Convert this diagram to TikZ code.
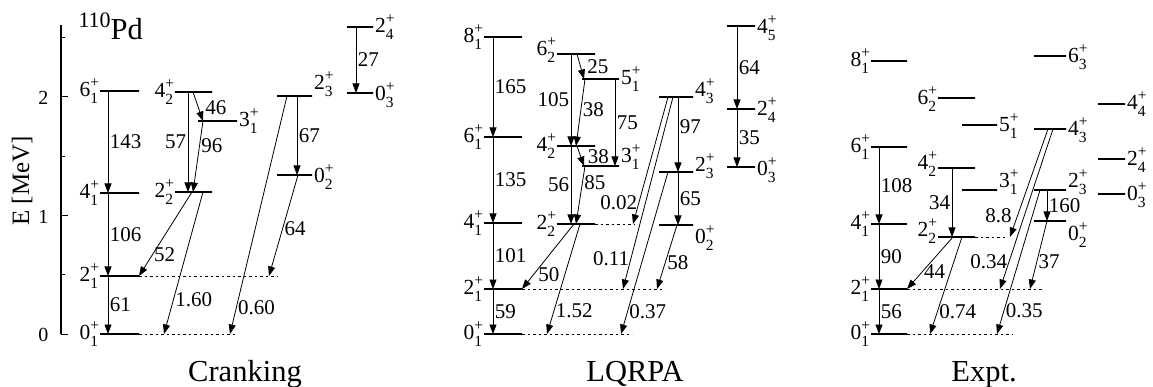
\documentclass[tikz,border=0pt]{standalone}
\usepackage{fontspec}
\setmainfont{Liberation Serif}
\usetikzlibrary{arrows.meta,positioning}
\newcommand{\lv}[2]{#1\rlap{\raisebox{0.40em}{\fontsize{15.5}{16}\selectfont+}}%
  \raisebox{-0.32em}{\fontsize{15.5}{16}\selectfont#2}}

\begin{document}
\begin{tikzpicture}[x=1pt,y=-1pt,
  lev/.style={draw,line width=1.6pt,inner sep=0pt,outer sep=0pt,minimum height=0pt,
              minimum width=#1,anchor=west},
  lev/.default=38pt,
  lab/.style={font=\fontsize{21.5}{24}\selectfont,inner sep=0.8pt},
  num/.style={font=\fontsize{21}{24}\selectfont,inner sep=1.5pt},
  ttl/.style={font=\fontsize{30.5}{36}\selectfont,anchor=base},
  arr/.style={-{Triangle[length=9.5pt,width=7pt]},line width=0.8pt},
  dsh/.style={dash pattern=on 2.5pt off 3pt,line width=0.6pt}]
  \useasboundingbox (0,0) rectangle (1153,387);
  % ---- energy axis
  \draw[line width=1.2pt] (61,25) -- (61,334);
  \foreach \e in {0,1,2} {
    \draw[line width=1pt] (61,{334-118.5*\e}) -- ++(7,0);
    \node[font=\fontsize{20}{24}\selectfont,anchor=east] (t\e) at (52,{335-118.5*\e}) {\e};}
  \foreach \e in {0.5,1.5,2.5} \draw[line width=1pt] (61,{334-118.5*\e}) -- ++(4,0);
  \node[rotate=90,font=\fontsize{25}{30}\selectfont] (ylab) at (22,181) {E [MeV]};
  \node[font=\fontsize{30.5}{36}\selectfont,anchor=base west] (nuc) at (75,40)
       {\raisebox{0.42em}{\fontsize{22}{22}\selectfont 110}Pd};
  % ---- Cranking levels
  \node[lev=39pt] (c01) at (100,334) {};
  \node[lev=39pt] (c21) at (100,276) {};
  \node[lev=39pt] (c41) at (100,193) {};
  \node[lev=39pt] (c61) at (100,91) {};
  \node[lev=37pt] (c42) at (175,92) {};
  \node[lev=37pt] (c22) at (175,192) {};
  \node[lev=39pt] (c31) at (198,121) {};
  \node[lev=35pt] (c23) at (277,96) {};
  \node[lev=35pt] (c02) at (277,175) {};
  \node[lev=26pt] (c03) at (347,93) {};
  \node[lev=26pt] (c24) at (347,27) {};
  \foreach \n/\j/\i in {c01/0/1,c21/2/1,c41/4/1,c61/6/1,c42/4/2,c22/2/2}
    \node[lab,left=1pt of \n] (l\n) {\lv{\j}{\i}};
  \foreach \n/\j/\i/\s in {c31/3/1/0,c02/0/2/-2,c03/0/3/-2,c24/2/4/0,c23/2/3/12}
    \node[lab,right=1pt of \n,yshift=\s pt] (l\n) {\lv{\j}{\i}};
  \coordinate (c21d) at (277,276); \coordinate (c01d) at (237,334);
  \draw[dsh] (c21.east) -- (c21d); \draw[dsh] (c01.east) -- (c01d);
  % ---- Cranking transitions
  \foreach \a/\b/\t in {c61/c41/143,c41/c21/106,c21/c01/61}
    \draw[arr] ([xshift=8pt]\a.west) -- node[num,right]{\t} ([xshift=8pt]\b.west);
  \draw[arr] ([xshift=13pt]c42.west) -- node[num,left]{57} ([xshift=13pt]c22.west);
  \draw[arr] ([xshift=18pt]c42.west) -- node[num,right,pos=0.55,xshift=5pt]{46} ([xshift=5pt]c31.west);
  \draw[arr] ([xshift=5pt]c31.west) -- node[num,right,pos=0.35]{96} ([xshift=18pt]c22.west);
  \draw[arr] ([xshift=17pt]c22.west) -- node[num,right,pos=0.75]{52} (c21.east);
  \draw[arr] ([xshift=28pt]c22.west) -- node[num,right,pos=0.76]{1.60} ([xshift=64pt]c01.west);
  \draw[arr] ([xshift=20pt]c23.west) -- node[num,right]{67} ([xshift=20pt]c02.west);
  \draw[arr] ([xshift=10pt]c23.west) -- node[num,right,pos=0.89]{0.60} ([xshift=130pt]c01.west);
  \draw[arr] ([xshift=21pt]c02.west) -- node[num,right,pos=0.53]{64} ([xshift=169pt]c21.west);
  \draw[arr] ([xshift=9pt]c24.west) -- node[num,right]{27} ([xshift=9pt]c03.west);
  % ---- LQRPA levels
  \node[lev] (q01) at (484,334) {};
  \node[lev] (q21) at (484,289) {};
  \node[lev] (q41) at (484,223) {};
  \node[lev] (q61) at (484,137) {};
  \node[lev] (q81) at (484,37) {};
  \node[lev] (q62) at (557,54) {};
  \node[lev] (q42) at (557,146) {};
  \node[lev] (q22) at (557,224) {};
  \node[lev=37pt] (q51) at (582,79) {};
  \node[lev=37pt] (q31) at (582,166) {};
  \node[lev=34pt] (q43) at (659,97) {};
  \node[lev=34pt] (q23) at (659,172) {};
  \node[lev=34pt] (q02) at (659,225) {};
  \node[lev=28pt] (q45) at (727,26) {};
  \node[lev=28pt] (q24) at (727,109) {};
  \node[lev=28pt] (q03) at (727,167) {};
  \foreach \n/\j/\i/\s in {q01/0/1/0,q21/2/1/0,q41/4/1/0,q61/6/1/0,q81/8/1/0,q62/6/2/4,q42/4/2/0,q22/2/2/0}
    \node[lab,left=1pt of \n,yshift=\s pt] (l\n) {\lv{\j}{\i}};
  \foreach \n/\j/\i/\s in {q51/5/1/0,q31/3/1/9,q43/4/3/6,q23/2/3/6,q02/0/2/-13,q45/4/5/-2,q24/2/4/-1,q03/0/3/-3}
    \node[lab,right=1pt of \n,yshift=\s pt] (l\n) {\lv{\j}{\i}};
  \coordinate (q21d) at (665,289); \coordinate (q01d) at (632,334); \coordinate (q22d) at (635,224);
  \draw[dsh] (q21.east) -- (q21d); \draw[dsh] (q01.east) -- (q01d); \draw[dsh] (q22.east) -- (q22d);
  % ---- LQRPA transitions
  \foreach \a/\b/\t in {q81/q61/165,q61/q41/135,q41/q21/101,q21/q01/59}
    \draw[arr] ([xshift=9pt]\a.west) -- node[num,right]{\t} ([xshift=9pt]\b.west);
  \draw[arr] ([xshift=14pt]q62.west) -- node[num,left]{105} ([xshift=14pt]q42.west);
  \draw[arr] ([xshift=14pt]q42.west) -- node[num,left]{56} ([xshift=14pt]q22.west);
  \draw[arr] ([xshift=20pt]q62.west) -- node[num,right,xshift=5pt]{25} ([xshift=2pt]q51.west);
  \draw[arr] ([xshift=3pt]q51.west) -- node[num,right,pos=0.45]{38} ([xshift=19pt]q42.west);
  \draw[arr] ([xshift=20pt]q42.west) -- node[num,right,pos=0.55,xshift=5pt]{38} ([xshift=2pt]q31.west);
  \draw[arr] ([xshift=3pt]q31.west) -- node[num,right,pos=0.28]{85} ([xshift=19pt]q22.west);
  \draw[arr] ([xshift=33pt]q51.west) -- node[num,right]{75} ([xshift=33pt]q31.west);
  \draw[arr] ([xshift=17pt]q22.west) -- node[num,right,pos=0.78,xshift=3pt]{50} (q21.east);
  \draw[arr] ([xshift=23pt]q22.west) -- node[num,right,pos=0.79]{1.52} ([xshift=63pt]q01.west);
  \draw[arr] ([xshift=19pt]q43.west) -- node[num,right,pos=0.4]{97} ([xshift=19pt]q23.west);
  \draw[arr] ([xshift=19pt]q23.west) -- node[num,right]{65} ([xshift=19pt]q02.west);
  \draw[arr] ([xshift=18pt]q02.west) -- node[num,right,pos=0.58]{58} ([xshift=173pt]q21.west);
  \draw[arr] ([xshift=9pt]q43.west) -- node[num,left,pos=0.83]{0.02} ([xshift=76pt]q22.west);
  \draw[arr] ([xshift=14pt]q43.west) -- node[num,left,pos=0.84]{0.11} ([xshift=139pt]q21.west);
  \draw[arr] ([xshift=9pt]q23.west) -- node[num,right,pos=0.86]{0.37} ([xshift=137pt]q01.west);
  \draw[arr] ([xshift=10pt]q45.west) -- node[num,right]{64} ([xshift=10pt]q24.west);
  \draw[arr] ([xshift=10pt]q24.west) -- node[num,right]{35} ([xshift=10pt]q03.west);
  % ---- Expt. levels
  \node[lev=36pt] (e01) at (871,334) {};
  \node[lev=36pt] (e21) at (871,289) {};
  \node[lev=36pt] (e41) at (871,224) {};
  \node[lev=36pt] (e61) at (871,147) {};
  \node[lev=36pt] (e81) at (871,61) {};
  \node[lev=37pt] (e62) at (938,98) {};
  \node[lev=37pt] (e42) at (938,168) {};
  \node[lev=37pt] (e22) at (938,237) {};
  \node[lev=35pt] (e51) at (962,125) {};
  \node[lev=35pt] (e31) at (962,190) {};
  \node[lev=32pt] (e63) at (1034,56) {};
  \node[lev=32pt] (e43) at (1034,129) {};
  \node[lev=32pt] (e23) at (1034,190) {};
  \node[lev=32pt] (e02) at (1034,221) {};
  \node[lev=27pt] (e44) at (1098,104) {};
  \node[lev=27pt] (e24) at (1098,159) {};
  \node[lev=27pt] (e03) at (1098,194) {};
  \foreach \n/\j/\i/\s in {e01/0/1/0,e21/2/1/0,e41/4/1/0,e61/6/1/0,e81/8/1/0,e62/6/2/-1,e42/4/2/4,e22/2/2/6}
    \node[lab,left=1pt of \n,yshift=\s pt] (l\n) {\lv{\j}{\i}};
  \foreach \n/\j/\i/\s in {e51/5/1/-1,e31/3/1/8,e63/6/3/-1,e43/4/3/-1,e23/2/3/8,e02/0/2/-14,e44/4/4/0,e24/2/4/-1,e03/0/3/-1}
    \node[lab,right=1pt of \n,yshift=\s pt] (l\n) {\lv{\j}{\i}};
  \coordinate (e21d) at (1042,289); \coordinate (e01d) at (1013,334); \coordinate (e22d) at (1008,237);
  \draw[dsh] (e21.east) -- (e21d); \draw[dsh] (e01.east) -- (e01d); \draw[dsh] (e22.east) -- (e22d);
  % ---- Expt. transitions
  \foreach \a/\b/\t in {e61/e41/108,e41/e21/90,e21/e01/56}
    \draw[arr] ([xshift=8pt]\a.west) -- node[num,right]{\t} ([xshift=8pt]\b.west);
  \draw[arr] ([xshift=14pt]e42.west) -- node[num,left]{34} ([xshift=14pt]e22.west);
  \draw[arr] ([xshift=15pt]e22.west) -- node[num,right,pos=0.67]{44} (e21.east);
  \draw[arr] ([xshift=24pt]e22.west) -- node[num,right,pos=0.77]{0.74} ([xshift=59pt]e01.west);
  \draw[arr] ([xshift=13pt]e23.west) -- node[num,right]{160} ([xshift=13pt]e02.west);
  \draw[arr] ([xshift=13pt]e02.west) -- node[num,right,pos=0.6]{37} ([xshift=159pt]e21.west);
  \draw[arr] ([xshift=14pt]e43.west) -- node[num,left,pos=0.8,xshift=-4pt]{8.8} ([xshift=72pt]e22.west);
  \draw[arr] ([xshift=19pt]e43.west) -- node[num,left,pos=0.83]{0.34} ([xshift=129pt]e21.west);
  \draw[arr] ([xshift=6pt]e23.west) -- node[num,right,pos=0.84]{0.35} ([xshift=126pt]e01.west);
  % ---- panel titles
  \node[ttl] (tcr) at (245,381) {Cranking};
  \node[ttl] (tlq) at (635,381) {LQRPA};
  \node[ttl] (tex) at (984,381) {Expt.};
\end{tikzpicture}
\end{document}
